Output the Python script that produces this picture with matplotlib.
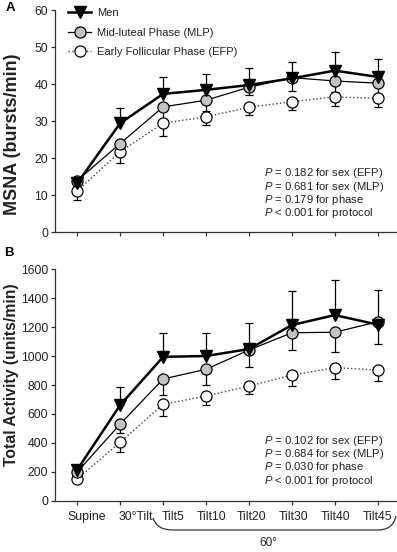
import matplotlib.pyplot as plt
from matplotlib.path import Path
from matplotlib.patches import PathPatch
from matplotlib.transforms import ScaledTranslation

plt.rcParams['font.family'] = ['Liberation Sans', 'DejaVu Sans']
plt.rcParams['mathtext.fontset'] = 'custom'
plt.rcParams['mathtext.it'] = 'Liberation Sans:italic'
plt.rcParams['mathtext.rm'] = 'Liberation Sans'

stages = ['Supine', '30°Tilt', 'Tilt5', 'Tilt10', 'Tilt20', 'Tilt30', 'Tilt40', 'Tilt45']

# panel A - MSNA (bursts/min)
msna_men = [13.3, 29.5, 37.4, 38.5, 39.8, 41.6, 43.7, 42.0]
msna_men_err = [1.5, 4.2, 4.5, 4.3, 4.7, 4.5, 5.1, 4.8]
msna_mlp = [14.0, 24.0, 33.9, 35.7, 39.2, 41.8, 40.9, 40.3]
msna_mlp_err = [1.5, 3.0, 3.2, 3.0, 2.1, 3.5, 3.0, 3.0]
msna_efp = [11.2, 21.8, 29.5, 31.2, 33.8, 35.3, 36.6, 36.2]
msna_efp_err = [2.5, 3.0, 3.4, 2.2, 2.1, 2.2, 2.5, 2.4]

# panel B - total activity (units/min)
ta_men = [215, 662, 995, 1001, 1049, 1215, 1284, 1218]
ta_men_err = [30, 122, 167, 161, 182, 237, 242, 239]
ta_mlp = [200, 530, 842, 909, 1042, 1162, 1165, 1238]
ta_mlp_err = [30, 64, 111, 109, 115, 120, 139, 154]
ta_efp = [152, 404, 667, 724, 793, 869, 920, 904]
ta_efp_err = [20, 65, 79, 62, 55, 76, 81, 74]

pvals_a = ['$P$ = 0.182 for sex (EFP)', '$P$ = 0.681 for sex (MLP)',
           '$P$ = 0.179 for phase', '$P$ < 0.001 for protocol']
pvals_b = ['$P$ = 0.102 for sex (EFP)', '$P$ = 0.684 for sex (MLP)',
           '$P$ = 0.030 for phase', '$P$ < 0.001 for protocol']

W, H = 397, 552
AX_COLOR = '#333333'
# in the original the tick labels sit a little right of their ticks (pixels)
LABEL_SHIFT = [9.5, 16, 10, 6, 2.8, 1.8, 1, 0]


def drawPanel(ax, men, men_err, mlp, mlp_err, efp, efp_err):
    x = list(range(len(stages)))
    zero = [0] * len(x)
    # error bars: men up, women down
    ax.errorbar(x, men, yerr=[zero, men_err], fmt='none', ecolor='black',
                elinewidth=0.9, capsize=2.6, capthick=0.9, zorder=2)
    ax.errorbar(x, mlp, yerr=[mlp_err, zero], fmt='none', ecolor='black',
                elinewidth=0.9, capsize=2.6, capthick=0.9, zorder=2)
    ax.errorbar(x, efp, yerr=[efp_err, zero], fmt='none', ecolor='black',
                elinewidth=0.9, capsize=2.6, capthick=0.9, zorder=2)

    ax.plot(x, efp, linestyle=':', color='#444444', linewidth=1.0, marker='o',
            markersize=8, markerfacecolor='white', markeredgecolor='black',
            markeredgewidth=0.9, label='Early Follicular Phase (EFP)', zorder=3)
    ax.plot(x, mlp, linestyle='-', color='black', linewidth=0.9, marker='o',
            markersize=8, markerfacecolor='#c3c3c3', markeredgecolor='black',
            markeredgewidth=0.9, label='Mid-luteal Phase (MLP)', zorder=4)
    ax.plot(x, men, linestyle='-', color='black', linewidth=1.8, marker='v',
            markersize=9, markerfacecolor='black', markeredgecolor='black',
            label='Men', zorder=5)

    ax.set_xlim(-0.52, 7.45)
    ax.set_xticks(x)
    for side in ['top', 'right']:
        ax.spines[side].set_visible(False)
    for side in ['left', 'bottom']:
        ax.spines[side].set_color(AX_COLOR)
        ax.spines[side].set_linewidth(0.9)
    ax.tick_params(direction='out', length=3, width=0.9, color=AX_COLOR,
                   labelsize=8.8, labelcolor='#222222', pad=2)
    ax.tick_params(axis='x', pad=4.5)


def pvalueText(ax, lines, y0, step):
    for i, t in enumerate(lines):
        ax.text(0.61, y0 - i * step, t, transform=ax.transAxes, fontsize=8.1,
                color='#222222', ha='left', va='center')


fig = plt.figure(figsize=(W / 100, H / 100), dpi=100)

ax1 = fig.add_axes([55 / W, 1 - 232.3 / H, 342 / W, 222 / H])
ax2 = fig.add_axes([55 / W, 1 - 500.7 / H, 342 / W, 231.3 / H])

drawPanel(ax1, msna_men, msna_men_err, msna_mlp, msna_mlp_err, msna_efp, msna_efp_err)
drawPanel(ax2, ta_men, ta_men_err, ta_mlp, ta_mlp_err, ta_efp, ta_efp_err)

ax1.set_ylim(0, 60)
ax1.set_yticks(range(0, 61, 10))
ax1.set_xticklabels([])
ax1.set_ylabel('MSNA (bursts/min)', fontsize=13, fontweight='bold', color='#222222')
ax1.yaxis.set_label_coords(-0.1, 0.44)

ax2.set_ylim(0, 1600)
ax2.set_yticks(range(0, 1601, 200))
ax2.set_xticklabels(stages)
ax2.set_ylabel('Total Activity (units/min)', fontsize=11.3, fontweight='bold', color='#222222')
ax2.yaxis.set_label_coords(-0.105, 0.543)
for lab, dx in zip(ax2.get_xticklabels(), LABEL_SHIFT):
    lab.set_transform(lab.get_transform() + ScaledTranslation(dx / 100, 0, fig.dpi_scale_trans))

# legend (order: men, MLP, EFP)
handles, labels = ax1.get_legend_handles_labels()
ax1.legend(handles[::-1], labels[::-1], loc='upper left', bbox_to_anchor=(0.038, 1.01),
           frameon=False, fontsize=8.0, handlelength=2.1, handletextpad=0.55,
           labelspacing=0.85, borderpad=0, borderaxespad=0, numpoints=1,
           labelcolor='#222222')

pvalueText(ax1, pvals_a, 0.266, 0.06)
pvalueText(ax2, pvals_b, 0.258, 0.057)

fig.text(10 / W, 1 - 8 / H, 'A', fontsize=9.5, fontweight='bold', ha='center', va='center')
fig.text(9 / W, 1 - 253 / H, 'B', fontsize=9.5, fontweight='bold', ha='center', va='center')


# bracket under tilt stages (pixel points -> figure fraction)
def px(xp, yp):
    return (xp / W, 1 - yp / H)


verts = [px(153, 518), px(157, 530), px(172, 530), px(378, 530),
         px(393, 530), px(396, 516)]
codes = [Path.MOVETO, Path.CURVE3, Path.CURVE3, Path.LINETO, Path.CURVE3, Path.CURVE3]
fig.add_artist(PathPatch(Path(verts, codes), transform=fig.transFigure,
                         fill=False, edgecolor=AX_COLOR, linewidth=0.9))
fig.text(268 / W, 1 - 543 / H, '60°', fontsize=8.5, color='#222222',
         ha='center', va='center')

plt.savefig('out.png', dpi=100)
